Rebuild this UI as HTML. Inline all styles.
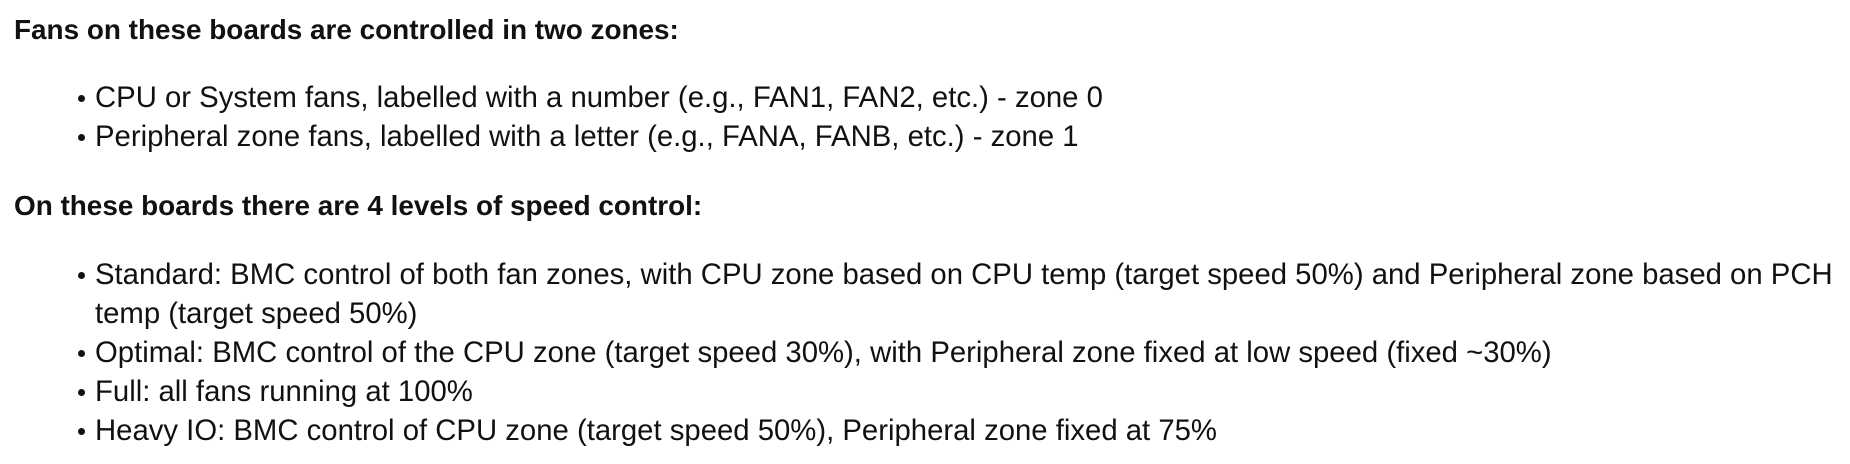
<!DOCTYPE html>
<html><head><meta charset="utf-8"><style>
html,body{margin:0;padding:0;background:#fff;width:1850px;height:464px;overflow:hidden}
body{font-family:"Liberation Sans",Arial,sans-serif;font-size:29.3px;color:#111;line-height:39px}
.h{position:absolute;left:14px;font-weight:bold;font-size:27.9px}
ul{position:absolute;left:0;margin:0;padding:0 0 0 95px;list-style:none;width:1755px}
li{position:relative;white-space:nowrap}
li:before{content:"";position:absolute;left:-17px;top:17px;width:7px;height:7px;border-radius:50%;background:#111}
</style></head><body>
<div class="h" style="top:10px">Fans on these boards are controlled in two zones:</div>
<ul style="top:78px">
<li>CPU or System fans, labelled with a number (e.g., FAN1, FAN2, etc.) - zone 0</li>
<li>Peripheral zone fans, labelled with a letter (e.g., FANA, FANB, etc.) - zone 1</li>
</ul>
<div class="h" style="top:186px">On these boards there are 4 levels of speed control:</div>
<ul style="top:255px">
<li>Standard: BMC control of both fan zones, with CPU zone based on CPU temp (target speed 50%) and Peripheral zone based on PCH<br>temp (target speed 50%)</li>
<li>Optimal: BMC control of the CPU zone (target speed 30%), with Peripheral zone fixed at low speed (fixed ~30%)</li>
<li>Full: all fans running at 100%</li>
<li>Heavy IO: BMC control of CPU zone (target speed 50%), Peripheral zone fixed at 75%</li>
</ul>
</body></html>
